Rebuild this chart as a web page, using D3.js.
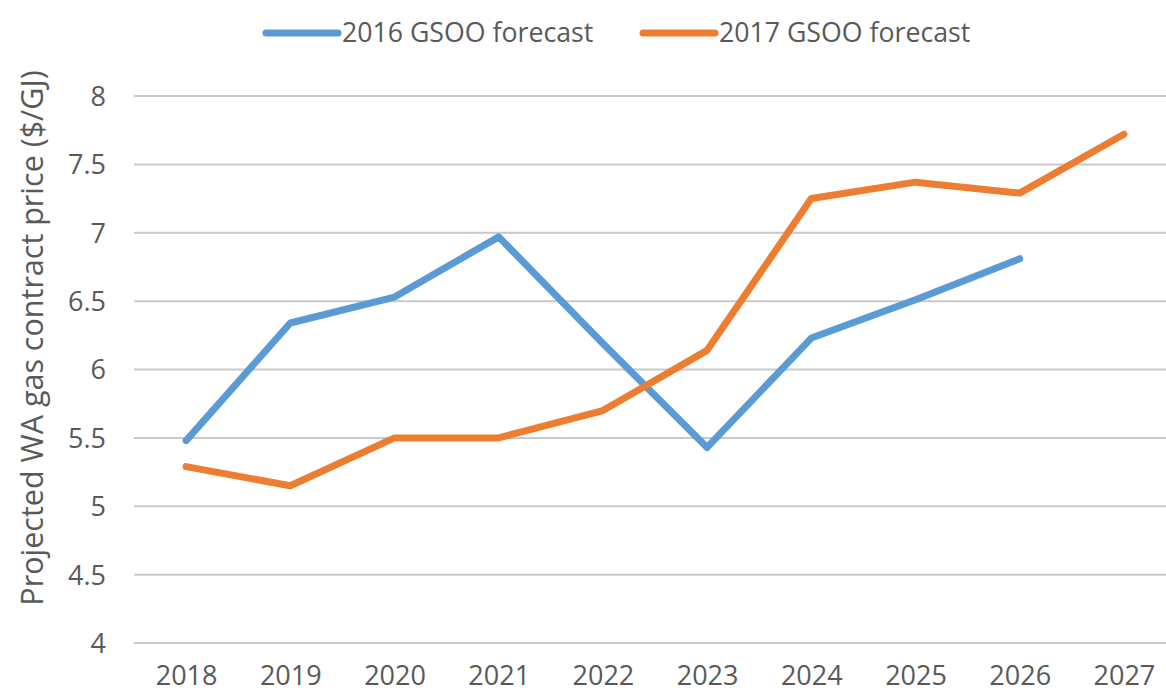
<!DOCTYPE html>
<html>
<head>
<meta charset="utf-8">
<script src="https://cdn.jsdelivr.net/npm/d3@7"></script>
<style>
  html, body { margin: 0; padding: 0; background: #fff; overflow: hidden; }
  svg { display: block; font-family: "Open Sans", "Noto Sans", sans-serif; }
</style>
</head>
<body>
<svg id="chart" width="1166" height="693"></svg>
<script>
const years = ["2018","2019","2020","2021","2022","2023","2024","2025","2026","2027"];
const gsoo2016 = [5.48, 6.34, 6.53, 6.97, 6.19, 5.43, 6.23, 6.51, 6.81, null];
const gsoo2017 = [5.29, 5.15, 5.50, 5.50, 5.70, 6.14, 7.25, 7.37, 7.29, 7.72];
const yTicks = [4, 4.5, 5, 5.5, 6, 6.5, 7, 7.5, 8];
const seriesNames = ["2016 GSOO forecast", "2017 GSOO forecast"];
const seriesColors = ["#5B9BD5", "#ED7D31"];
const yTitle = "Projected WA gas contract price ($/GJ)";

const svg = d3.select("#chart");
const left = 134, step = 104.2;
const x = d3.scalePoint().domain(years).range([left + step/2, left + step/2 + step*9]);
const y = d3.scaleLinear().domain([4, 8]).range([643, 96]);
const textColor = "#595959";

// gridlines
svg.append("g").selectAll("line").data(yTicks).join("line")
  .attr("x1", left).attr("x2", 1166)
  .attr("y1", d => y(d)).attr("y2", d => y(d))
  .attr("stroke", "#c9c9c9").attr("stroke-width", 2);

// y axis labels
const yAxis = d3.axisLeft(y).tickValues(yTicks).tickSize(0).tickPadding(0).tickFormat(d3.format("~g"));
const gy = svg.append("g").attr("transform", "translate(106,0)").call(yAxis);
gy.select(".domain").remove();
gy.selectAll("text").attr("font-size", 27).attr("fill", textColor)
  .attr("font-family", "'Open Sans', sans-serif").attr("dy", "0.35em");

// x axis labels
const xAxis = d3.axisBottom(x).tickSize(0).tickPadding(0);
const gx = svg.append("g").attr("transform", "translate(0,685)").call(xAxis);
gx.select(".domain").remove();
gx.selectAll("text").attr("font-size", 27).attr("fill", textColor)
  .attr("font-family", "'Open Sans', sans-serif").attr("dy", "0").attr("y", 0);

// y title
svg.append("text")
  .attr("transform", "translate(43,338) rotate(-90)")
  .attr("text-anchor", "middle")
  .attr("font-size", 30.5).attr("fill", textColor)
  .text(yTitle);

// lines
const line = d3.line()
  .defined(d => d.v != null)
  .x(d => x(d.year)).y(d => y(d.v));
[gsoo2016, gsoo2017].forEach((vals, i) => {
  const data = years.map((yr, j) => ({year: yr, v: vals[j]}));
  svg.append("path").datum(data)
    .attr("d", line)
    .attr("fill", "none")
    .attr("stroke", seriesColors[i])
    .attr("stroke-width", 7)
    .attr("stroke-linejoin", "round")
    .attr("stroke-linecap", "round");
});

// legend
const legendX = [266, 643];
seriesNames.forEach((name, i) => {
  const g = svg.append("g").attr("transform", `translate(${legendX[i]},33)`);
  g.append("line").attr("x1", 0).attr("x2", 72).attr("y1", 0).attr("y2", 0)
    .attr("stroke", seriesColors[i]).attr("stroke-width", 7).attr("stroke-linecap", "round");
  g.append("text").attr("x", 76).attr("y", 0).attr("dy", "0.35em")
    .attr("font-size", 26.7).attr("fill", textColor).text(name);
});
</script>
</body>
</html>
